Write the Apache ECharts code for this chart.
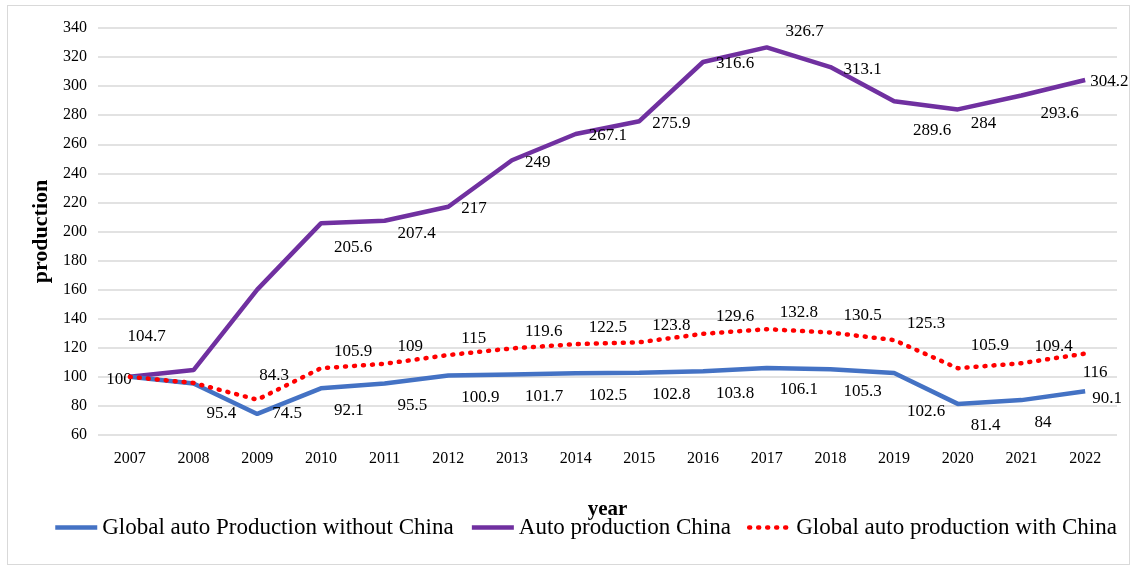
<!DOCTYPE html>
<html>
<head>
<meta charset="utf-8">
<script src="https://cdn.jsdelivr.net/npm/echarts@6/dist/echarts.min.js"></script>
<style>
html, body { margin: 0; padding: 0; background: #fff; }
#frame { position: absolute; left: 7px; top: 5px; width: 1123px; height: 560px; border: 1px solid #d9d9d9; box-sizing: border-box; }
#main { position: absolute; left: 0; top: 0; width: 1137px; height: 573px; }
</style>
</head>
<body>
<div id="frame"></div>
<div id="main"></div>
<script>
var years = ['2007','2008','2009','2010','2011','2012','2013','2014','2015','2016','2017','2018','2019','2020','2021','2022'];
var withoutChina = [100, 95.4, 74.5, 92.1, 95.5, 100.9, 101.7, 102.5, 102.8, 103.8, 106.1, 105.3, 102.6, 81.4, 84, 90.1];
var chinaProd = [100, 104.7, 160, 205.6, 207.4, 217, 249, 267.1, 275.9, 316.6, 326.7, 313.1, 289.6, 284, 293.6, 304.2];
var withChina = [100, 95.8, 84.3, 105.9, 109, 115, 119.6, 122.5, 123.8, 129.6, 132.8, 130.5, 125.3, 105.9, 109.4, 116];
var seriesNames = ['Global auto Production without China', 'Auto production China', 'Global auto production with China'];

var font = 'Liberation Serif, Times New Roman, serif';

// label tweaks per point (index -> label option), like hand placed labels in the original
function withLabels(values, tweaks) {
    return values.map(function (v, i) {
        return tweaks[i] ? { value: v, label: tweaks[i] } : v;
    });
}

var labelBase = { show: true, position: 'right', fontFamily: font, fontSize: 17, color: '#000', opacity: 1 };

var chart = echarts.init(document.getElementById('main'));
var option = {
    textStyle: { fontFamily: font },
    grid: { left: 98, right: 20, top: 28, bottom: 138 },
    legend: {
        top: 511,
        left: 48,
        itemWidth: 42,
        itemHeight: 10,
        itemGap: 16,
        itemStyle: { opacity: 0 },
        lineStyle: { width: 4.5 },
        textStyle: { fontFamily: font, fontSize: 23, color: '#000' },
        data: seriesNames
    },
    xAxis: {
        type: 'category',
        data: years,
        name: 'year',
        nameLocation: 'middle',
        nameGap: 64,
        nameTextStyle: { fontFamily: font, fontSize: 21, fontWeight: 'bold', color: '#000' },
        axisLine: { show: false },
        axisTick: { show: false },
        axisLabel: { fontFamily: font, fontSize: 16, color: '#000', margin: 16 }
    },
    yAxis: {
        type: 'value',
        min: 60,
        max: 340,
        interval: 20,
        name: 'production',
        nameLocation: 'middle',
        nameGap: 41,
        nameRotate: 90,
        nameTextStyle: { fontFamily: font, fontSize: 22, fontWeight: 'bold', color: '#000' },
        axisLabel: { fontFamily: font, fontSize: 16, color: '#000', margin: 11 },
        splitLine: { lineStyle: { color: '#d9d9d9', width: 1.5 } }
    },
    series: [
        {
            name: seriesNames[0],
            type: 'line',
            symbol: 'circle',
            symbolSize: 4,
            z: 3,
            lineStyle: { color: '#4472C4', width: 4.5 },
            itemStyle: { color: '#4472C4', opacity: 0 },
            label: Object.assign({}, labelBase, { offset: [6, 22] }),
            data: withLabels(withoutChina, {
                0: { position: 'left', offset: [9, 3] },
                1: { offset: [6, 30] },
                2: { offset: [8, 0] },
                12: { offset: [6, 38] },
                15: { offset: [0, 7] }
            })
        },
        {
            name: seriesNames[1],
            type: 'line',
            symbol: 'circle',
            symbolSize: 4,
            z: 2,
            lineStyle: { color: '#7030A0', width: 4.5 },
            itemStyle: { color: '#7030A0', opacity: 0 },
            label: Object.assign({}, labelBase, { offset: [6, 2] }),
            data: withLabels(chinaProd, {
                0: { show: false },
                1: { position: 'top', offset: [-47, -18] },
                2: { show: false },
                3: { offset: [6, 24] },
                4: { offset: [6, 13] },
                10: { position: 'top', offset: [38, 0] },
                12: { offset: [12, 29] },
                13: { offset: [6, 14] },
                14: { offset: [12, 18] },
                15: { offset: [-2, 1] }
            })
        },
        {
            name: seriesNames[2],
            type: 'line',
            symbol: 'circle',
            symbolSize: 4,
            z: 4,
            lineStyle: { color: '#FF0000', width: 4.5, type: [1, 8], cap: 'round' },
            itemStyle: { color: '#FF0000', opacity: 0 },
            label: Object.assign({}, labelBase, { offset: [6, -17] }),
            data: withLabels(withChina, {
                0: { show: false },
                1: { show: false },
                2: { position: 'top', offset: [17, -9] },
                13: { offset: [6, -23] },
                15: { position: 'bottom', offset: [10, 3] }
            })
        }
    ]
};
chart.setOption(option);
</script>
</body>
</html>
